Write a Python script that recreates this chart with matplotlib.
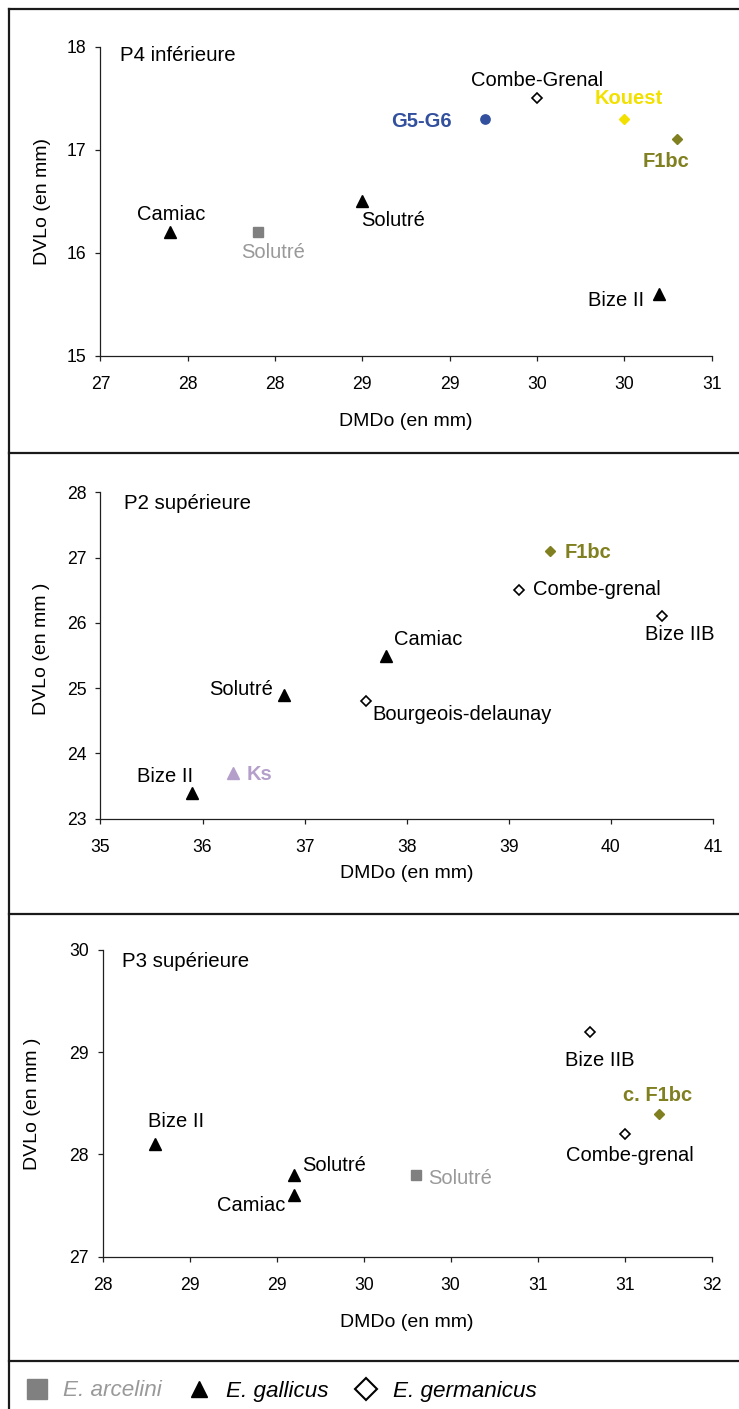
import numpy as np
import matplotlib
matplotlib.use("Agg")
import matplotlib.pyplot as plt
from matplotlib.lines import Line2D
from matplotlib.ticker import FuncFormatter

plt.rcParams['font.family'] = ['Liberation Sans', 'DejaVu Sans']

# ---------------- data ----------------
# Panel 1 : P4 inférieure
p4_arc_x = [27.9]
p4_arc_y = [16.2]
p4_arc_lab = ['Solutré']
p4_gal_x = [27.4, 28.5, 30.2]
p4_gal_y = [16.2, 16.5, 15.6]
p4_gal_lab = ['Camiac', 'Solutré', 'Bize II']
p4_ger_x = [29.5]
p4_ger_y = [17.5]
p4_ger_lab = ['Combe-Grenal']
p4_g56_x = [29.2]
p4_g56_y = [17.3]
p4_kou_x = [30.0]
p4_kou_y = [17.3]
p4_f1_x = [30.3]
p4_f1_y = [17.1]

# Panel 2 : P2 supérieure
p2_gal_x = [37.8, 36.8, 35.9]
p2_gal_y = [25.5, 24.9, 23.4]
p2_gal_lab = ['Camiac', 'Solutré', 'Bize II']
p2_ger_x = [39.1, 40.5, 37.6]
p2_ger_y = [26.5, 26.1, 24.8]
p2_ger_lab = ['Combe-grenal', 'Bize IIB', 'Bourgeois-delaunay']
p2_f1_x = [39.4]
p2_f1_y = [27.1]
p2_ks_x = [36.3]
p2_ks_y = [23.7]

# Panel 3 : P3 supérieure
p3_arc_x = [29.8]
p3_arc_y = [27.8]
p3_arc_lab = ['Solutré']
p3_gal_x = [28.3, 29.1, 29.1]
p3_gal_y = [28.1, 27.8, 27.6]
p3_gal_lab = ['Bize II', 'Solutré', 'Camiac']
p3_ger_x = [30.8, 31.0]
p3_ger_y = [29.2, 28.2]
p3_ger_lab = ['Bize IIB', 'Combe-grenal']
p3_f1_x = [31.2]
p3_f1_y = [28.4]

legend_labels = ['E. arcelini', 'E. gallicus', 'E. germanicus']

# ---------------- styles ----------------
GRAY_M = '#808080'
GRAY_T = '#999999'
BLUE = '#33509E'
YELLOW = '#F2E100'
OLIVE = '#808020'
LILAC = '#B49FCB'

W, H, DPI = 739, 1409, 100
fig = plt.figure(figsize=(W / DPI, H / DPI), dpi=DPI)

PX = 0.72  # px -> points at 100 dpi
FS_LAB = 14.5
FS_TICK = 12.7
FS_AX = 14.0


def px_axes(left, top, right, bottom):
    return fig.add_axes([left / W, 1 - bottom / H, (right - left) / W, (bottom - top) / H])


def style_axes(ax, xlim, xticks, ylim, yticks, ylabel, xlab_y, ylab_x, ylab_y):
    ax.set_xlim(*xlim)
    ax.set_ylim(*ylim)
    ax.set_xticks(xticks)
    ax.set_yticks(yticks)
    ax.xaxis.set_major_formatter(FuncFormatter(lambda v, p: f"{int(np.floor(v + 0.5 + 1e-9))}"))
    ax.yaxis.set_major_formatter(FuncFormatter(lambda v, p: f"{int(round(v))}"))
    for s in ['top', 'right']:
        ax.spines[s].set_visible(False)
    for s in ['left', 'bottom']:
        ax.spines[s].set_color('#202020')
        ax.spines[s].set_linewidth(0.9)
    ax.tick_params(axis='x', direction='out', length=3.5, width=0.9, pad=11, labelsize=FS_TICK, colors='#202020')
    ax.tick_params(axis='y', direction='out', length=3.5, width=0.9, pad=6.5, labelsize=FS_TICK, colors='#202020')
    for t in ax.get_xticklabels() + ax.get_yticklabels():
        t.set_color('black')
    ax.set_xlabel('DMDo (en mm)', fontsize=FS_AX)
    ax.xaxis.set_label_coords(0.5, xlab_y)
    ax.xaxis.label.set_va('center')
    ax.set_ylabel(ylabel, fontsize=FS_AX)
    ax.yaxis.set_label_coords(ylab_x, ylab_y)
    ax.yaxis.label.set_va('center')
    ax.set_facecolor('none')


def label(ax, txt, x, y, dx, dy, ha, color='black', bold=False):
    ax.annotate(txt, (x, y), xytext=(dx * PX, -dy * PX), textcoords='offset points',
                ha=ha, va='center', fontsize=FS_LAB, color=color,
                fontweight='bold' if bold else 'normal')


TRI = dict(marker='^', ms=8, color='black', ls='none')
SQ = dict(marker='s', ms=6.5, color=GRAY_M, ls='none')
DIA = dict(marker='D', ms=5, mfc='white', mec='black', mew=1.2, ls='none')
FDIA = dict(marker='D', ms=5, ls='none')

# ---------------- Panel 1 ----------------
ax1 = px_axes(100.4, 46.7, 711.6, 356)
style_axes(ax1, (27, 30.5), np.arange(27, 30.51, 0.5), (15, 18), [15, 16, 17, 18],
           'DVLo (en mm)', -0.2124, -0.094, 0.501)
ax1.plot(p4_arc_x, p4_arc_y, **SQ)
ax1.plot(p4_gal_x, p4_gal_y, **TRI)
ax1.plot(p4_ger_x, p4_ger_y, **DIA)
ax1.plot(p4_g56_x, p4_g56_y, marker='o', ms=6.7, color=BLUE, ls='none')
ax1.plot(p4_kou_x, p4_kou_y, color=YELLOW, **FDIA)
ax1.plot(p4_f1_x, p4_f1_y, color=OLIVE, **FDIA)
p4_gal_off = [(1, -17.7, 'center'), (31, 19, 'center'), (-14.6, 6, 'right')]
for x, y, t, (dx, dy, ha) in zip(p4_gal_x, p4_gal_y, p4_gal_lab, p4_gal_off):
    label(ax1, t, x, y, dx, dy, ha)
label(ax1, p4_arc_lab[0], p4_arc_x[0], p4_arc_y[0], 15.5, 20, 'center', color=GRAY_T)
label(ax1, p4_ger_lab[0], p4_ger_x[0], p4_ger_y[0], 0, -17.7, 'center')
label(ax1, 'G5-G6', p4_g56_x[0], p4_g56_y[0], -32.5, 3, 'right', color=BLUE, bold=True)
label(ax1, 'Kouest', p4_kou_x[0], p4_kou_y[0], 4.7, -20.7, 'center', color=YELLOW, bold=True)
label(ax1, 'F1bc', p4_f1_x[0], p4_f1_y[0], -10.6, 21.7, 'center', color=OLIVE, bold=True)
ax1.text(120.2 / W, 1 - 55.7 / H, 'P4 inférieure', transform=fig.transFigure,
         ha='left', va='center', fontsize=14.7)

# ---------------- Panel 2 ----------------
ax2 = px_axes(100.4, 492.3, 713, 818.7)
style_axes(ax2, (35, 41), np.arange(35, 41.1, 1), (23, 28), [23, 24, 25, 26, 27, 28],
           'DVLo (en mm )', -0.167, -0.096, 0.52)
ax2.plot(p2_gal_x, p2_gal_y, **TRI)
ax2.plot(p2_ger_x, p2_ger_y, **DIA)
ax2.plot(p2_f1_x, p2_f1_y, color=OLIVE, **FDIA)
ax2.plot(p2_ks_x, p2_ks_y, marker='^', ms=8, color=LILAC, ls='none')
p2_gal_off = [(7.6, -15.7, 'left'), (-10.9, -5, 'right'), (1, -15.6, 'right')]
for x, y, t, (dx, dy, ha) in zip(p2_gal_x, p2_gal_y, p2_gal_lab, p2_gal_off):
    label(ax2, t, x, y, dx, dy, ha)
p2_ger_off = [(13.7, -1, 'left'), (17.3, 18.3, 'center'), (6.1, 13.7, 'left')]
for x, y, t, (dx, dy, ha) in zip(p2_ger_x, p2_ger_y, p2_ger_lab, p2_ger_off):
    label(ax2, t, x, y, dx, dy, ha)
label(ax2, 'F1bc', p2_f1_x[0], p2_f1_y[0], 14.5, 1.4, 'left', color=OLIVE, bold=True)
label(ax2, 'Ks', p2_ks_x[0], p2_ks_y[0], 13.7, 1.7, 'left', color=LILAC, bold=True)
ax2.text(123.5 / W, 1 - 503.3 / H, 'P2 supérieure', transform=fig.transFigure,
         ha='left', va='center', fontsize=14.7)

# ---------------- Panel 3 ----------------
ax3 = px_axes(102.7, 950, 711.6, 1256.7)
style_axes(ax3, (28, 31.5), np.arange(28, 31.51, 0.5), (27, 30), [27, 28, 29, 30],
           'DVLo (en mm )', -0.214, -0.1145, 0.498)
ax3.plot(p3_arc_x, p3_arc_y, **SQ)
ax3.plot(p3_gal_x, p3_gal_y, **TRI)
ax3.plot(p3_ger_x, p3_ger_y, **DIA)
ax3.plot(p3_f1_x, p3_f1_y, color=OLIVE, **FDIA)
label(ax3, p3_arc_lab[0], p3_arc_x[0], p3_arc_y[0], 12.2, 4, 'left', color=GRAY_T)
p3_gal_off = [(21.2, -22.3, 'center'), (8, -9.3, 'left'), (-8.5, 10, 'right')]
for x, y, t, (dx, dy, ha) in zip(p3_gal_x, p3_gal_y, p3_gal_lab, p3_gal_off):
    label(ax3, t, x, y, dx, dy, ha)
p3_ger_off = [(10.4, 29, 'center'), (5.6, 21.7, 'center')]
for x, y, t, (dx, dy, ha) in zip(p3_ger_x, p3_ger_y, p3_ger_lab, p3_ger_off):
    label(ax3, t, x, y, dx, dy, ha)
label(ax3, 'c. F1bc', p3_f1_x[0], p3_f1_y[0], -1.4, -18, 'center', color=OLIVE, bold=True)
ax3.text(121.6 / W, 1 - 961.7 / H, 'P3 supérieure', transform=fig.transFigure,
         ha='left', va='center', fontsize=14.7)

# ---------------- frame lines ----------------
def hline(ypx, lw=1.6):
    fig.add_artist(Line2D([9.3 / W, 1], [1 - ypx / H] * 2, transform=fig.transFigure,
                          color='#1a1a1a', lw=lw))

fig.add_artist(Line2D([9.3 / W] * 2, [0, 1 - 9.3 / H], transform=fig.transFigure,
                      color='#1a1a1a', lw=1.6))
for ypx in [9.3, 453, 914, 1361]:
    hline(ypx)

# ---------------- legend ----------------
handles = [
    Line2D([], [], marker='s', ms=14, color=GRAY_M, ls='none'),
    Line2D([], [], marker='^', ms=12, color='black', ls='none'),
    Line2D([], [], marker='D', ms=11, mfc='white', mec='black', mew=1.5, ls='none'),
]
leg = fig.legend(handles, legend_labels, loc='center left', ncol=3, frameon=False,
                 bbox_to_anchor=(23 / W, 1 - 1391 / H), borderaxespad=0, borderpad=0,
                 handlelength=1.2, handletextpad=0.6, columnspacing=1.05,
                 prop={'size': 16.2, 'style': 'italic'})
for t, c in zip(leg.get_texts(), [GRAY_T, 'black', 'black']):
    t.set_color(c)

fig.savefig('out.png', dpi=DPI)
